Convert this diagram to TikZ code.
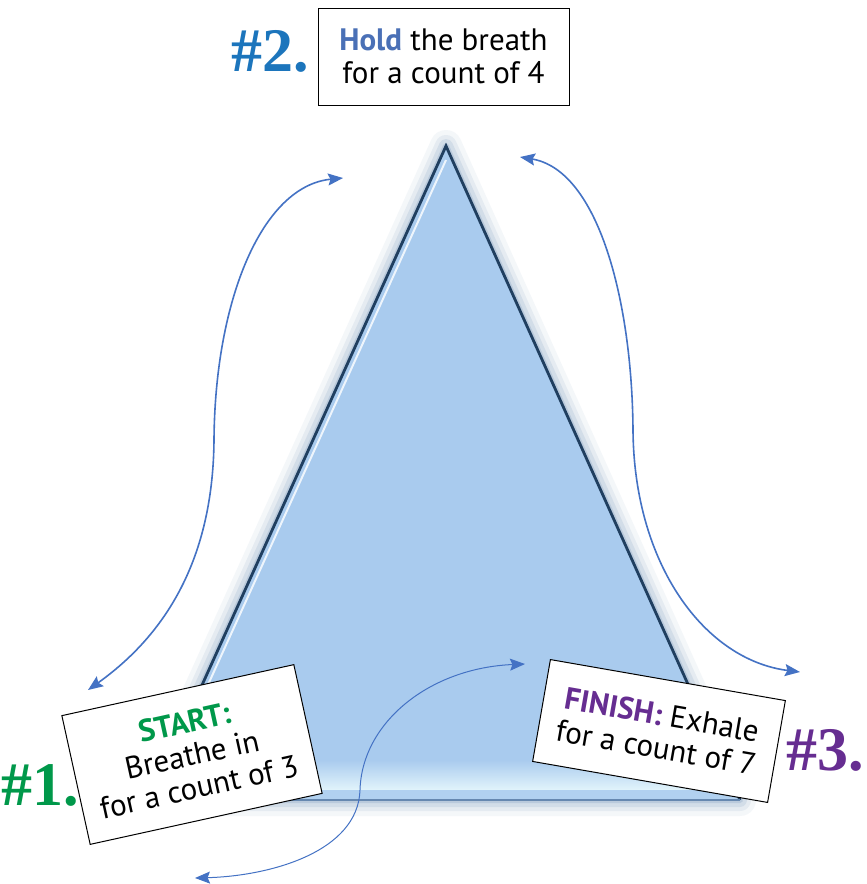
\documentclass[tikz,border=0pt]{standalone}
\usepackage{fontspec}
\setmainfont{PT Sans}
\newfontfamily\numfont{Liberation Serif}
\usetikzlibrary{arrows.meta,calc,positioning}
\definecolor{triblue}{HTML}{A9CBEE}
\definecolor{triedge}{HTML}{203F60}
\definecolor{baseedge}{HTML}{6688B0}
\definecolor{bandlight}{HTML}{E2F4FB}
\definecolor{glowblue}{HTML}{4F78A8}
\definecolor{arrowblue}{HTML}{4472C4}
\definecolor{holdblue}{HTML}{4A70B6}
\definecolor{numblue}{HTML}{1C75BC}
\definecolor{startgreen}{HTML}{00984A}
\definecolor{finishpurple}{HTML}{662D91}

\begin{document}
\begin{tikzpicture}[x=0.5pt,y=-0.5pt]
        \tikzset{notebox/.style={draw=black, line width=0.5pt, fill=white, align=center,
                   inner sep=0pt, font=\fontsize{15.5}{16.5}\selectfont},
                 numlabel/.style={inner sep=0pt, font=\numfont\bfseries\fontsize{31}{31}\selectfont},
                 breatharrow/.style={arrowblue, line width=0.8pt, >={Stealth[length=7.5pt,width=6pt,inset=1.2pt]}, <->}}
        % Canvas
        \fill[white] (0,0) rectangle (867,884);
        \useasboundingbox (0,0) rectangle (867,884);
        % Define coordinates
        \coordinate (apex) at (446,146);
        \coordinate (baseL) at (150,800);
        \coordinate (baseR) at (740,800);
        % Glow around the triangle
        \foreach \w/\o in {16/0.06, 11/0.09, 7/0.12, 3/0.18}
          \draw[glowblue, line width=\w pt, opacity=\o, line join=round, shift={(3,3)}]
            (apex) -- (baseL) -- (baseR) -- cycle;
        % Draw the triangle
        \fill[triblue] (apex) -- (baseL) -- (baseR) -- cycle;
        \begin{scope}
          \clip (apex) -- (baseL) -- (baseR) -- cycle;
          \shade[top color=triblue, bottom color=bandlight] (100,760) rectangle (800,790);
          \fill[triblue!85!bandlight] (100,790) rectangle (800,800);
        \end{scope}
        \draw[white!80!triblue, line width=1pt] (446,160) -- (158,795);
        \draw[triedge, line width=1.4pt, line join=miter] (baseL) -- (apex) -- (baseR);
        \draw[baseedge, line width=1.4pt] (baseL) -- (baseR);
        % Arrow end points
        \coordinate (inL) at (88,690);
        \coordinate (inT) at (343,178);
        \coordinate (outT) at (520,157);
        \coordinate (outR) at (800,672);
        \coordinate (midR) at (525,664);
        \coordinate (midL) at (195,878);
        % Arrows
        \draw[breatharrow] (inL) .. controls (165,635) and (213,560) .. (214,440)
          .. controls (215,300) and (262,186) .. (inT);
        \draw[breatharrow] (outT) .. controls (598,170) and (632,300) .. (633,430)
          .. controls (634,565) and (705,660) .. (outR);
        \draw[breatharrow, line width=0.5pt] (midR) .. controls (430,668) and (362,722) .. (360,790)
          .. controls (358,852) and (270,876) .. (midL);
        % Boxes
        \node[notebox, minimum width=125.5pt, minimum height=48.5pt] (hold) at (443.5,56.5)
          {\textcolor{holdblue}{\textbf{Hold}} the breath\\for a count of 4};
        \node[notebox, rotate=12.4, minimum width=118.75pt, minimum height=65.9pt] (start) at (192,754.5)
          {\textcolor{startgreen}{\textbf{START:}}\\Breathe in\\for a count of 3};
        \node[notebox, rotate=-9.9, minimum width=119.25pt, minimum height=51.7pt] (finish) at (659,731)
          {\textcolor{finishpurple}{\textbf{FINISH:}} Exhale\\for a count of 7};
        % Step numbers
        \node[numlabel, text=numblue] (two) at (270,51) {\#2.};
        \node[numlabel, text=startgreen] (one) at (40,785) {\#1.};
        \node[numlabel, text=finishpurple] (three) at (825,750) {\#3.};
\end{tikzpicture}
\end{document}
